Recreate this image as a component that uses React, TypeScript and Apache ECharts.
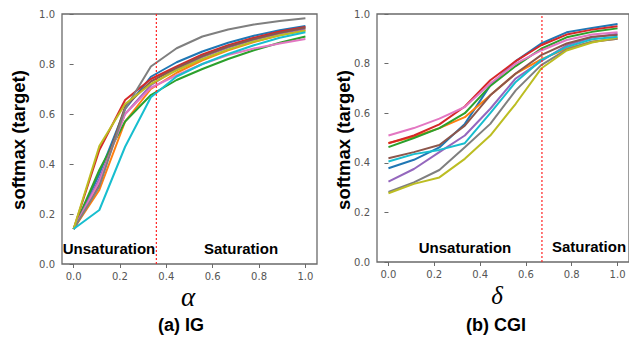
import React, { useEffect, useRef } from "react";
import * as echarts from "echarts";

const xs = [0, 1 / 9, 2 / 9, 3 / 9, 4 / 9, 5 / 9, 6 / 9, 7 / 9, 8 / 9, 1];
const tickValues = [0, 0.2, 0.4, 0.6, 0.8, 1.0];
const colors = ["#1f77b4", "#ff7f0e", "#2ca02c", "#d62728", "#9467bd", "#8c564b", "#e377c2", "#7f7f7f", "#bcbd22", "#17becf"];

// (a) IG
const igBlue = [0.14, 0.36, 0.62, 0.749, 0.807, 0.85, 0.885, 0.913, 0.935, 0.952];
const igOrange = [0.14, 0.296, 0.57, 0.7, 0.765, 0.815, 0.855, 0.888, 0.915, 0.936];
const igGreen = [0.14, 0.376, 0.57, 0.676, 0.736, 0.78, 0.82, 0.855, 0.885, 0.91];
const igRed = [0.14, 0.456, 0.656, 0.74, 0.79, 0.838, 0.875, 0.905, 0.93, 0.948];
const igPurple = [0.14, 0.34, 0.6, 0.715, 0.78, 0.828, 0.866, 0.897, 0.922, 0.942];
const igBrown = [0.14, 0.32, 0.63, 0.73, 0.785, 0.832, 0.87, 0.9, 0.925, 0.945];
const igPink = [0.14, 0.33, 0.6, 0.705, 0.755, 0.8, 0.836, 0.862, 0.882, 0.9];
const igGray = [0.14, 0.31, 0.62, 0.79, 0.863, 0.91, 0.938, 0.958, 0.972, 0.983];
const igOlive = [0.14, 0.472, 0.64, 0.72, 0.775, 0.82, 0.858, 0.89, 0.915, 0.933];
const igCyan = [0.14, 0.216, 0.469, 0.667, 0.75, 0.8, 0.84, 0.875, 0.905, 0.927];

// (b) CGI
const cgBlue = [0.378, 0.412, 0.462, 0.557, 0.712, 0.81, 0.881, 0.926, 0.944, 0.96];
const cgOrange = [0.48, 0.505, 0.54, 0.584, 0.672, 0.76, 0.817, 0.861, 0.888, 0.9];
const cgGreen = [0.463, 0.5, 0.54, 0.6, 0.71, 0.79, 0.86, 0.906, 0.928, 0.942];
const cgRed = [0.479, 0.51, 0.555, 0.627, 0.733, 0.81, 0.874, 0.917, 0.937, 0.951];
const cgPurple = [0.324, 0.375, 0.443, 0.51, 0.618, 0.74, 0.81, 0.874, 0.905, 0.92];
const cgBrown = [0.418, 0.443, 0.472, 0.55, 0.672, 0.76, 0.834, 0.881, 0.908, 0.915];
const cgPink = [0.51, 0.54, 0.578, 0.625, 0.72, 0.8, 0.853, 0.895, 0.917, 0.926];
const cgGray = [0.283, 0.321, 0.371, 0.463, 0.557, 0.692, 0.794, 0.856, 0.888, 0.9];
const cgOlive = [0.277, 0.315, 0.341, 0.416, 0.51, 0.638, 0.78, 0.853, 0.885, 0.905];
const cgCyan = [0.405, 0.435, 0.452, 0.479, 0.6, 0.726, 0.814, 0.867, 0.898, 0.908];

const igSeries = [igBlue, igOrange, igGreen, igRed, igPurple, igBrown, igPink, igGray, igOlive, igCyan];
const cgSeries = [cgBlue, cgOrange, cgGreen, cgRed, cgPurple, cgBrown, cgPink, cgGray, cgOlive, cgCyan];

const igThreshold = 0.357;
const cgThreshold = 0.67;

const axisGray = "#6a6a6a";
const labelGray = "#555";
const sans = "'Liberation Sans', Arial, sans-serif";

function makeX(gridIndex: number) {
  return {
    type: "value",
    gridIndex,
    min: -0.05,
    max: 1.05,
    axisLine: { show: false },
    splitLine: { show: false },
    axisTick: { show: true, length: 4, customValues: tickValues, lineStyle: { color: axisGray } },
    axisLabel: {
      customValues: tickValues,
      formatter: (v: number) => v.toFixed(1),
      color: labelGray,
      fontSize: 10,
      fontFamily: "'DejaVu Sans', sans-serif",
      margin: 7,
    },
  };
}
function makeY(gridIndex: number) {
  return {
    type: "value",
    gridIndex,
    min: 0,
    max: 1,
    interval: 0.2,
    axisLine: { show: false },
    splitLine: { show: false },
    axisTick: { show: true, length: 4, lineStyle: { color: axisGray } },
    axisLabel: {
      formatter: (v: number) => v.toFixed(1),
      color: labelGray,
      fontSize: 10,
      fontFamily: "'DejaVu Sans', sans-serif",
      margin: 7,
    },
  };
}

export default function App() {
  const ref = useRef<HTMLDivElement>(null);
  useEffect(() => {
    if (!ref.current) return;
    const chart = echarts.init(ref.current, null, { renderer: "svg" });
    const series: any[] = [];
    igSeries.forEach((vals, i) => {
      series.push({
        type: "line",
        xAxisIndex: 0,
        yAxisIndex: 0,
        showSymbol: false,
        data: vals.map((v, k) => [xs[k], v]),
        lineStyle: { color: colors[i], width: 2 },
        itemStyle: { color: colors[i] },
      });
    });
    cgSeries.forEach((vals, i) => {
      series.push({
        type: "line",
        xAxisIndex: 1,
        yAxisIndex: 1,
        showSymbol: false,
        data: vals.map((v, k) => [xs[k], v]),
        lineStyle: { color: colors[i], width: 2 },
        itemStyle: { color: colors[i] },
      });
    });
    series.push({
      type: "line",
      xAxisIndex: 0,
      yAxisIndex: 0,
      showSymbol: false,
      data: [[igThreshold, 0], [igThreshold, 1]],
      lineStyle: { color: "#ff2020", width: 1.2, type: [2, 2] },
      z: 5,
    });
    series.push({
      type: "line",
      xAxisIndex: 1,
      yAxisIndex: 1,
      showSymbol: false,
      data: [[cgThreshold, 0], [cgThreshold, 1]],
      lineStyle: { color: "#ff2020", width: 1.2, type: [2, 2] },
      z: 5,
    });

    const boldText = (text: string, x: number, y: number, size: number, extra: any = {}) => ({
      type: "text",
      x,
      y,
      z: 10,
      ...extra,
      style: {
        text,
        font: `bold ${size}px ${sans}`,
        fill: "#000",
        align: "center",
        verticalAlign: "middle",
      },
    });

    chart.setOption({
      animation: false,
      grid: [
        { left: 62, top: 14, width: 255, height: 250, show: true, borderColor: axisGray, borderWidth: 1.3, backgroundColor: "transparent" },
        { left: 377, top: 14, width: 254, height: 248, show: true, borderColor: axisGray, borderWidth: 1.3, backgroundColor: "transparent" },
      ],
      xAxis: [makeX(0), makeX(1)],
      yAxis: [makeY(0), makeY(1)],
      series,
      graphic: [
        boldText("Unsaturation", 109, 248, 15),
        boldText("Saturation", 241, 248, 15),
        boldText("Unsaturation", 465, 247, 15),
        boldText("Saturation", 589, 246, 15),
        boldText("softmax (target)", 18, 140, 18.5, { rotation: Math.PI / 2 }),
        boldText("softmax (target)", 343, 140, 18.5, { rotation: Math.PI / 2 }),
        boldText("(a) IG", 181, 325, 18),
        boldText("(b) CGI", 496, 325, 18),
        {
          type: "text",
          x: 188,
          y: 297,
          style: { text: "α", font: `italic 27px 'Liberation Serif', serif`, fill: "#000", align: "center", verticalAlign: "middle" },
        },
        {
          type: "text",
          x: 497,
          y: 295,
          style: { text: "δ", font: `italic 25px 'Liberation Serif', serif`, fill: "#000", align: "center", verticalAlign: "middle" },
        },
      ],
    });
    return () => chart.dispose();
  }, []);
  return <div ref={ref} style={{ position: "fixed", left: 0, top: 0, width: 629, height: 338, background: "#fff" }} />;
}
